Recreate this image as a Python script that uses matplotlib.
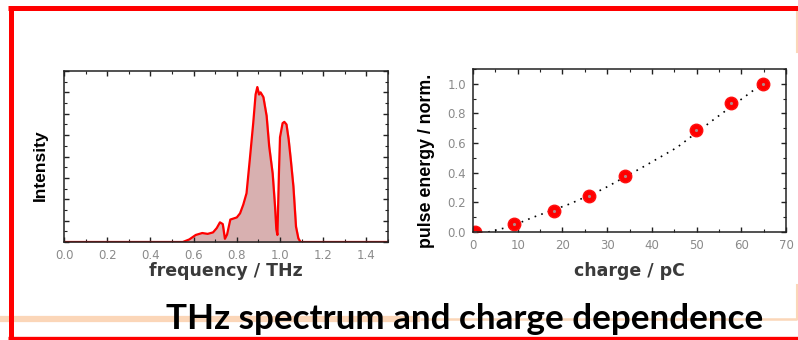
import matplotlib
matplotlib.use('Agg')
import matplotlib.pyplot as plt
from matplotlib.ticker import MultipleLocator, NullFormatter

# spectrum (left panel)
freq = [0.0, 0.55, 0.58, 0.61, 0.64, 0.665, 0.69, 0.707, 0.722, 0.735, 0.745, 0.755,
        0.77, 0.80, 0.815, 0.83, 0.845, 0.86, 0.876, 0.887, 0.895, 0.903, 0.91,
        0.923, 0.938, 0.95, 0.966, 0.977, 0.983, 0.988, 0.995, 1.0, 1.012, 1.02,
        1.03, 1.04, 1.05, 1.062, 1.074, 1.085, 1.095, 1.5]
intensity = [0.0, 0.0, 0.12, 0.33, 0.42, 0.38, 0.45, 0.65, 0.92, 0.84, 0.15, 0.35,
             1.05, 1.15, 1.34, 1.75, 2.28, 3.84, 5.56, 6.9, 7.25, 6.9, 7.0,
             6.78, 5.9, 4.47, 3.2, 1.66, 0.6, 0.33, 3.2, 4.9, 5.56, 5.62,
             5.5, 4.8, 3.84, 2.6, 0.72, 0.17, 0.0, 0.0]

# pulse energy vs charge (right panel)
charge = [0.4, 9.2, 18.1, 26.0, 34.0, 49.8, 57.8, 64.8]
energy = [0.0, 0.055, 0.145, 0.24, 0.38, 0.69, 0.87, 1.0]
fit_x = [3.4, 8.3, 13.5, 21.7, 29.1, 38.1, 45.6, 53.7, 62.0, 66.0]
fit_y = [0.0, 0.036, 0.10, 0.19, 0.29, 0.44, 0.57, 0.756, 0.94, 1.03]

title = 'THz spectrum and charge dependence'

fig = plt.figure(figsize=(7.98, 3.4), dpi=100)

# slide frame drawn in pixel coordinates
bg = fig.add_axes([0, 0, 1, 1], zorder=0)
bg.set_xlim(0, 798)
bg.set_ylim(340, 0)
bg.axis('off')
peach = '#fbd6b8'
bg.plot([0, 420], [318.5, 318.5], color=peach, lw=4.5, solid_capstyle='butt')
bg.plot([420, 797], [318.5, 318.5], color=peach, lw=1.8, solid_capstyle='butt')
bg.plot([797, 797], [285, 318.5], color=peach, lw=1.5)
bg.plot([797, 797], [10, 52], color=peach, lw=1.5)
bg.plot([8, 798], [7.5, 7.5], color='red', lw=3.6, solid_capstyle='butt')
bg.plot([10.5, 10.5], [5.5, 339], color='red', lw=3.6, solid_capstyle='butt')
bg.plot([8, 798], [338, 338], color='red', lw=2.4, solid_capstyle='butt')
bg.text(465, 329, title, fontsize=25.2, fontweight='bold', family='Lato',
        ha='center', va='baseline', color='black', zorder=5)

tick_gray = '#8a8a8a'


def style_axes(ax):
    for s in ax.spines.values():
        s.set_linewidth(1.1)
        s.set_color('#222222')
    ax.tick_params(which='both', direction='in', top=True, right=True,
                   labelcolor=tick_gray, labelsize=8.5, color='#222222')
    ax.tick_params(which='major', length=3.5, width=1.0, pad=5)
    ax.tick_params(which='minor', length=2, width=0.8)


# left: THz spectrum
ax1 = fig.add_axes([64 / 798, 98 / 340, 324 / 798, 171 / 340], zorder=2)
ax1.fill_between(freq, intensity, 0, color='#d8b0b0')
ax1.plot(freq, intensity, color='red', lw=1.6)
ax1.set_xlim(0, 1.5)
ax1.set_ylim(0, 8)
ax1.xaxis.set_major_locator(MultipleLocator(0.2))
ax1.xaxis.set_minor_locator(MultipleLocator(0.1))
ax1.yaxis.set_major_locator(MultipleLocator(1))
ax1.yaxis.set_minor_locator(MultipleLocator(0.5))
ax1.yaxis.set_major_formatter(NullFormatter())
style_axes(ax1)
ax1.set_xlabel('frequency / THz', fontsize=12.5, fontweight='bold',
               color='#3a3a3a', labelpad=0)
ax1.set_ylabel('Intensity', fontsize=12.5, fontweight='bold',
               family='Liberation Sans', va='center')
ax1.yaxis.set_label_coords(-0.074, 0.45)

# right: pulse energy vs charge
ax2 = fig.add_axes([473 / 798, 108 / 340, 313 / 798, 163 / 340], zorder=2)
ax2.plot(fit_x, fit_y, color='black', lw=1.2, linestyle=(0, (1, 3.2)))
ax2.plot(charge, energy, 'o', color='red', markersize=9, markeredgecolor='#ff1010')
ax2.plot(charge, energy, '.', color='#b08888', markersize=2.5)
ax2.set_xlim(0, 70)
ax2.set_ylim(0, 1.1)
ax2.xaxis.set_major_locator(MultipleLocator(10))
ax2.xaxis.set_minor_locator(MultipleLocator(5))
ax2.yaxis.set_major_locator(MultipleLocator(0.2))
ax2.yaxis.set_minor_locator(MultipleLocator(0.1))
ax2.yaxis.set_major_formatter(plt.FormatStrFormatter('%.1f'))
style_axes(ax2)
ax2.set_xlabel('charge / pC', fontsize=12.5, fontweight='bold',
               color='#3a3a3a', labelpad=7)
ax2.set_ylabel('pulse energy / norm.', fontsize=12.8, fontweight='bold',
               family='Liberation Sans', va='center')
ax2.yaxis.set_label_coords(-0.15, 0.436)

fig.savefig('out.png', dpi=100)
